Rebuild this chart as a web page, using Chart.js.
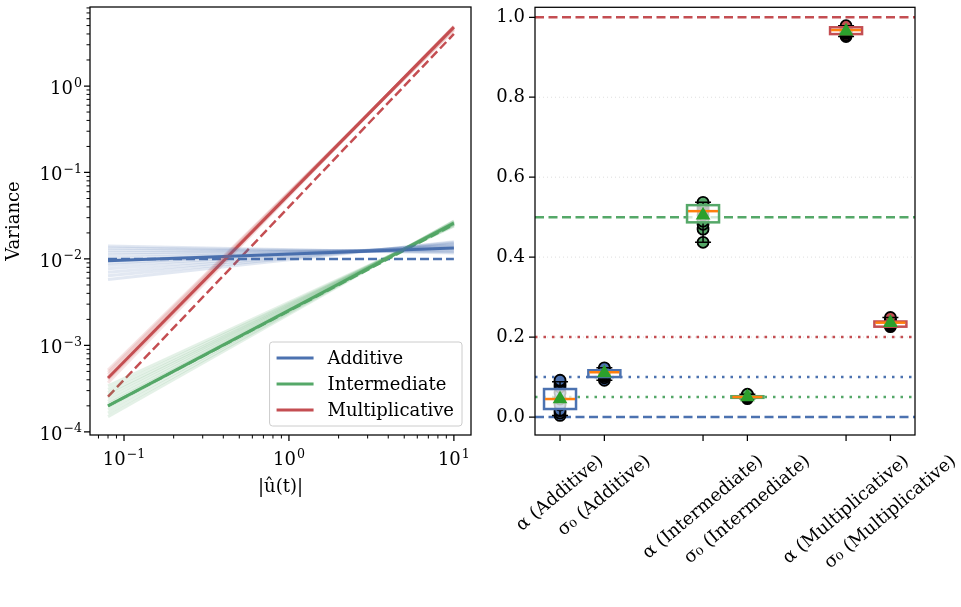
<!DOCTYPE html>
<html>
<head>
<meta charset="utf-8">
<script src="https://cdn.jsdelivr.net/npm/chart.js@4.4.0/dist/chart.umd.min.js"></script>
<style>
    html, body { margin: 0; padding: 0; background: #fff; }
    body { width: 961px; height: 607px; position: relative; overflow: hidden; }
    #variancePanel { position: absolute; left: 0; top: 0; }
    #paramPanel { position: absolute; left: 480px; top: 0; }
</style>
</head>
<body>
<canvas id="variancePanel" width="480" height="607"></canvas>
<canvas id="paramPanel" width="481" height="607"></canvas>
<script>
// ---------- Data ----------
const models = ['Additive', 'Intermediate', 'Multiplicative'];
const modelColors = ['#4C72B0', '#55A868', '#C44E52'];

// left panel: variance vs |u| (end points of each straight log-log line)
const uEnds = [0.08, 10];
const additiveFit = [0.0095, 0.0134];
const additiveTrue = [0.01, 0.01];
const intermediateFit = [0.0002, 0.026];
const intermediateTrue = [0.0002, 0.025];
const multiplicativeFit = [0.00042, 4.8];
const multiplicativeTrue = [0.000256, 4.0];

// faint per-run fits
const additiveRuns = [
    [0.0058, 0.0158], [0.0064, 0.0155], [0.0070, 0.0151], [0.0077, 0.0147], [0.0084, 0.0144],
    [0.0090, 0.0140], [0.0096, 0.0137], [0.0102, 0.0134], [0.0110, 0.0131], [0.0118, 0.0127],
    [0.0126, 0.0123], [0.0134, 0.0120], [0.0141, 0.0117],
];
const intermediateRuns = [
    [0.00015, 0.0275], [0.000165, 0.0272], [0.00018, 0.0268], [0.000195, 0.0265], [0.00021, 0.0262],
    [0.000225, 0.0258], [0.000245, 0.0255], [0.000265, 0.0251], [0.000285, 0.0247], [0.00031, 0.0243],
    [0.00034, 0.024],
];
const multiplicativeRuns = [
    [0.00037, 4.95], [0.00040, 4.85], [0.00043, 4.75], [0.00046, 4.65], [0.00049, 4.55], [0.00052, 4.45],
];

const xMajor = [0.1, 1, 10];
const xMajorExp = ['−1', '0', '1'];
const yMajor = [1e-4, 1e-3, 1e-2, 1e-1, 1];
const yMajorExp = ['−4', '−3', '−2', '−1', '0'];

// right panel: recovered parameters
const paramLabels = ['α (Additive)', 'σ₀ (Additive)', 'α (Intermediate)', 'σ₀ (Intermediate)', 'α (Multiplicative)', 'σ₀ (Multiplicative)'];
const paramPositions = [0, 0.31, 1, 1.31, 2, 2.31];
const paramModel = [0, 0, 1, 1, 2, 2];
const trueValues = [0.0, 0.1, 0.5, 0.05, 1.0, 0.2];
const boxQ1 = [0.02, 0.100, 0.487, 0.048, 0.958, 0.226];
const boxMedian = [0.045, 0.112, 0.515, 0.050, 0.968, 0.236];
const boxQ3 = [0.07, 0.117, 0.530, 0.052, 0.975, 0.239];
const whiskerLow = [0.004, 0.092, 0.437, 0.046, 0.952, 0.226];
const whiskerHigh = [0.088, 0.123, 0.537, 0.057, 0.979, 0.249];
const paramMeans = [0.045, 0.110, 0.505, 0.050, 0.965, 0.236];
const paramSamples = [
    [0.004, 0.010, 0.016, 0.030, 0.045, 0.060, 0.075, 0.082, 0.088, 0.092],
    [0.092, 0.098, 0.102, 0.106, 0.110, 0.112, 0.115, 0.118, 0.121, 0.123],
    [0.437, 0.470, 0.482, 0.490, 0.505, 0.515, 0.520, 0.525, 0.532, 0.537],
    [0.046, 0.048, 0.049, 0.050, 0.050, 0.051, 0.052, 0.053, 0.055, 0.057],
    [0.952, 0.956, 0.960, 0.963, 0.966, 0.968, 0.970, 0.973, 0.976, 0.979],
    [0.226, 0.228, 0.230, 0.233, 0.235, 0.236, 0.238, 0.240, 0.244, 0.249],
];
const yTickValues = [0, 0.2, 0.4, 0.6, 0.8, 1.0];
const yGridValues = [0.2, 0.4, 0.6, 0.8];

// ---------- Helpers ----------
const FONT = '"DejaVu Serif", serif';
const FS = 18;
Chart.defaults.font.family = FONT;
Chart.defaults.color = '#000';
Chart.defaults.animation = false;

function fade(hex, a) {
    const n = parseInt(hex.slice(1), 16);
    return `rgba(${n >> 16},${(n >> 8) & 255},${n & 255},${a})`;
}
function linePoints(vals) {
    return uEnds.map((u, i) => ({ x: u, y: vals[i] }));
}
function minorTicks(min, max) {
    const out = [];
    for (let e = Math.floor(Math.log10(min)); e <= Math.ceil(Math.log10(max)); e++) {
        for (let k = 2; k <= 9; k++) {
            const v = k * Math.pow(10, e);
            if (v >= min && v <= max) out.push(v);
        }
    }
    return out;
}
function drawFrame(ctx, a) {
    ctx.strokeStyle = '#000';
    ctx.lineWidth = 1.25;
    ctx.strokeRect(a.left, a.top, a.right - a.left, a.bottom - a.top);
}
function tickMarks(ctx, scale, values, len, width) {
    const a = scale.chart.chartArea;
    ctx.strokeStyle = '#000';
    ctx.lineWidth = width;
    ctx.beginPath();
    values.forEach(v => {
        const p = scale.getPixelForValue(v);
        if (scale.isHorizontal()) {
            ctx.moveTo(p, a.bottom);
            ctx.lineTo(p, a.bottom + len);
        } else {
            ctx.moveTo(a.left, p);
            ctx.lineTo(a.left - len, p);
        }
    });
    ctx.stroke();
}
// "10" with a raised exponent, like a mathtext power label
function powerLabel(ctx, exp, x, baseline, align) {
    ctx.font = `${FS}px ${FONT}`;
    const wb = ctx.measureText('10').width;
    ctx.font = `${FS * 0.7}px ${FONT}`;
    const we = ctx.measureText(exp).width;
    const total = wb + we + 1;
    const start = align === 'right' ? x - total : x - total / 2;
    ctx.textAlign = 'left';
    ctx.textBaseline = 'alphabetic';
    ctx.fillStyle = '#000';
    ctx.font = `${FS}px ${FONT}`;
    ctx.fillText('10', start, baseline);
    ctx.font = `${FS * 0.7}px ${FONT}`;
    ctx.fillText(exp, start + wb + 1, baseline - 7.5);
}

// ---------- Left panel ----------
const xMinL = 0.0622, xMaxL = 12.7;
const yMinL = 9.2e-5, yMaxL = 8.2;
const xMinorL = minorTicks(xMinL, xMaxL);
const yMinorL = minorTicks(yMinL, yMaxL);

const leftDatasets = [];
[additiveRuns, intermediateRuns, multiplicativeRuns].forEach((runs, m) => {
    runs.forEach(r => leftDatasets.push({ data: linePoints(r), borderColor: fade(modelColors[m], 0.16), borderWidth: 3 }));
});
[additiveFit, intermediateFit, multiplicativeFit].forEach((f, m) => {
    leftDatasets.push({ data: linePoints(f), borderColor: modelColors[m], borderWidth: 3 });
});
[additiveTrue, intermediateTrue, multiplicativeTrue].forEach((t, m) => {
    leftDatasets.push({ data: linePoints(t), borderColor: modelColors[m], borderWidth: 2.5, borderDash: [9, 4] });
});

const leftDecor = {
    id: 'leftDecor',
    afterDraw(chart) {
        const ctx = chart.ctx, a = chart.chartArea;
        const xs = chart.scales.x, ys = chart.scales.y;
        ctx.save();
        drawFrame(ctx, a);
        tickMarks(ctx, xs, xMajor, 6, 1.25);
        tickMarks(ctx, xs, xMinorL, 3.5, 1);
        tickMarks(ctx, ys, yMajor, 6, 1.25);
        tickMarks(ctx, ys, yMinorL, 3.5, 1);
        xMajor.forEach((v, i) => powerLabel(ctx, xMajorExp[i], xs.getPixelForValue(v), a.bottom + 30, 'center'));
        yMajor.forEach((v, i) => powerLabel(ctx, yMajorExp[i], a.left - 8, ys.getPixelForValue(v) + 8, 'right'));

        // legend in the lower right corner
        ctx.font = `${FS}px ${FONT}`;
        const textW = Math.max(...models.map(m => ctx.measureText(m).width));
        const rowH = 26;
        const w = 58 + textW + 8, h = rowH * models.length + 6;
        const right = a.right - 9, bottom = a.bottom - 9;
        const left = right - w, top = bottom - h;
        ctx.beginPath();
        ctx.roundRect(left, top, w, h, 3);
        ctx.fillStyle = 'rgba(255,255,255,0.8)';
        ctx.fill();
        ctx.strokeStyle = '#cccccc';
        ctx.lineWidth = 1;
        ctx.stroke();
        models.forEach((m, i) => {
            const y = top + 3 + rowH / 2 + rowH * i;
            ctx.beginPath();
            ctx.moveTo(left + 7, y);
            ctx.lineTo(left + 44, y);
            ctx.strokeStyle = modelColors[i];
            ctx.lineWidth = 3;
            ctx.stroke();
            ctx.fillStyle = '#000';
            ctx.textBaseline = 'middle';
            ctx.textAlign = 'left';
            ctx.fillText(m, left + 58, y + 1);
        });
        ctx.restore();
    },
};

new Chart(document.getElementById('variancePanel'), {
    type: 'line',
    data: { datasets: leftDatasets },
    options: {
        responsive: false,
        events: [],
        elements: { point: { radius: 0 }, line: { tension: 0 } },
        plugins: { legend: { display: false }, tooltip: { enabled: false } },
        layout: { padding: { left: 0, right: 9, top: 7, bottom: 109 } },
        scales: {
            x: {
                type: 'logarithmic', min: xMinL, max: xMaxL,
                afterBuildTicks: s => { s.ticks = xMajor.map(v => ({ value: v })); },
                ticks: { display: false },
                grid: { display: false, drawTicks: false },
                border: { display: false },
                title: { display: true, text: '|û(t)|', font: { size: FS }, padding: { top: 0, bottom: 0 } },
                afterFit: s => { s.height = 63; s.paddingLeft = 0; s.paddingRight = 0; },
            },
            y: {
                type: 'logarithmic', min: yMinL, max: yMaxL,
                afterBuildTicks: s => { s.ticks = yMajor.map(v => ({ value: v })); },
                ticks: { display: false },
                grid: { display: false, drawTicks: false },
                border: { display: false },
                title: { display: true, text: 'Variance', font: { size: FS }, padding: { top: 4, bottom: 0 } },
                afterFit: s => { s.width = 90; s.paddingTop = 0; s.paddingBottom = 0; },
            },
        },
    },
    plugins: [leftDecor],
});

// ---------- Right panel ----------
const xMinR = -0.175, xMaxR = 2.482;
const BOX_HALF = 16;
const LABEL_ANGLE = 40 * Math.PI / 180;

const rightDecor = {
    id: 'rightDecor',
    beforeDatasetsDraw(chart) {
        const ctx = chart.ctx, a = chart.chartArea, ys = chart.scales.y;
        ctx.save();
        // dotted grid
        ctx.strokeStyle = '#d6d6d6';
        ctx.lineWidth = 0.8;
        ctx.setLineDash([1, 3]);
        yGridValues.forEach(v => {
            const y = ys.getPixelForValue(v);
            ctx.beginPath(); ctx.moveTo(a.left, y); ctx.lineTo(a.right, y); ctx.stroke();
        });
        // true values: alpha dashed, sigma0 dotted
        trueValues.forEach((v, i) => {
            const y = ys.getPixelForValue(v);
            ctx.strokeStyle = modelColors[paramModel[i]];
            ctx.lineWidth = 2.5;
            ctx.setLineDash(i % 2 === 0 ? [9, 4.5] : [2.5, 6]);
            ctx.beginPath(); ctx.moveTo(a.left, y); ctx.lineTo(a.right, y); ctx.stroke();
        });
        ctx.restore();
    },
    afterDatasetsDraw(chart) {
        const ctx = chart.ctx, xs = chart.scales.x, ys = chart.scales.y;
        ctx.save();
        paramPositions.forEach((p, i) => {
            const cx = xs.getPixelForValue(p);
            const yq1 = ys.getPixelForValue(boxQ1[i]);
            const yq3 = ys.getPixelForValue(boxQ3[i]);
            const ylo = ys.getPixelForValue(whiskerLow[i]);
            const yhi = ys.getPixelForValue(whiskerHigh[i]);
            // whiskers and caps
            ctx.strokeStyle = '#000';
            ctx.lineWidth = 1.5;
            ctx.beginPath();
            ctx.moveTo(cx, yq1); ctx.lineTo(cx, ylo);
            ctx.moveTo(cx, yq3); ctx.lineTo(cx, yhi);
            ctx.moveTo(cx - BOX_HALF / 2, ylo); ctx.lineTo(cx + BOX_HALF / 2, ylo);
            ctx.moveTo(cx - BOX_HALF / 2, yhi); ctx.lineTo(cx + BOX_HALF / 2, yhi);
            ctx.stroke();
            // box
            ctx.fillStyle = 'rgba(255,255,255,0.75)';
            ctx.fillRect(cx - BOX_HALF, yq3, BOX_HALF * 2, yq1 - yq3);
            ctx.strokeStyle = modelColors[paramModel[i]];
            ctx.lineWidth = 2.5;
            ctx.strokeRect(cx - BOX_HALF, yq3, BOX_HALF * 2, yq1 - yq3);
            // median
            const ym = ys.getPixelForValue(boxMedian[i]);
            ctx.strokeStyle = '#ff7f0e';
            ctx.lineWidth = 2.5;
            ctx.beginPath(); ctx.moveTo(cx - BOX_HALF + 1, ym); ctx.lineTo(cx + BOX_HALF - 1, ym); ctx.stroke();
            // mean marker
            const yMean = ys.getPixelForValue(paramMeans[i]);
            const r = 8.5;
            ctx.fillStyle = '#2ca02c';
            ctx.beginPath();
            ctx.moveTo(cx, yMean - r);
            ctx.lineTo(cx + r * 0.866, yMean + r * 0.5);
            ctx.lineTo(cx - r * 0.866, yMean + r * 0.5);
            ctx.closePath();
            ctx.fill();
        });
        ctx.restore();
    },
    afterDraw(chart) {
        const ctx = chart.ctx, a = chart.chartArea, xs = chart.scales.x;
        ctx.save();
        drawFrame(ctx, a);
        tickMarks(ctx, xs, paramPositions, 6, 1.25);
        tickMarks(ctx, chart.scales.y, yTickValues, 6, 1.25);
        // rotated category labels, bounding box centred under each tick
        ctx.font = `${FS}px ${FONT}`;
        ctx.fillStyle = '#000';
        ctx.textAlign = 'center';
        ctx.textBaseline = 'middle';
        const c = Math.cos(LABEL_ANGLE), s = Math.sin(LABEL_ANGLE);
        paramLabels.forEach((lab, i) => {
            const w = ctx.measureText(lab).width;
            const H = w * s + FS * c;
            const cx = xs.getPixelForValue(paramPositions[i]);
            const cy = a.bottom + 17 + H / 2;
            ctx.save();
            ctx.translate(cx, cy);
            ctx.rotate(-LABEL_ANGLE);
            ctx.fillText(lab, 0, 0);
            ctx.restore();
        });
        ctx.restore();
    },
};

new Chart(document.getElementById('paramPanel'), {
    type: 'scatter',
    data: {
        datasets: paramSamples.map((s, i) => ({
            data: s.map(v => ({ x: paramPositions[i], y: v })),
            backgroundColor: modelColors[paramModel[i]],
            borderColor: '#000',
            borderWidth: 1.8,
            pointRadius: 5.5,
        })),
    },
    options: {
        responsive: false,
        events: [],
        plugins: { legend: { display: false }, tooltip: { enabled: false } },
        layout: { padding: { left: 0, right: 46, top: 7, bottom: 172 } },
        scales: {
            x: {
                type: 'linear', min: xMinR, max: xMaxR,
                ticks: { display: false },
                grid: { display: false, drawTicks: false },
                border: { display: false },
                afterFit: s => { s.height = 0; s.paddingLeft = 0; s.paddingRight = 0; },
            },
            y: {
                type: 'linear', min: -0.045, max: 1.025,
                afterBuildTicks: s => { s.ticks = yTickValues.map(v => ({ value: v })); },
                ticks: { padding: 10, font: { size: FS }, callback: v => v.toFixed(1) },
                grid: { display: false, drawTicks: false },
                border: { display: false },
                afterFit: s => { s.width = 55; s.paddingTop = 0; s.paddingBottom = 0; },
            },
        },
    },
    plugins: [rightDecor],
});
</script>
</body>
</html>
